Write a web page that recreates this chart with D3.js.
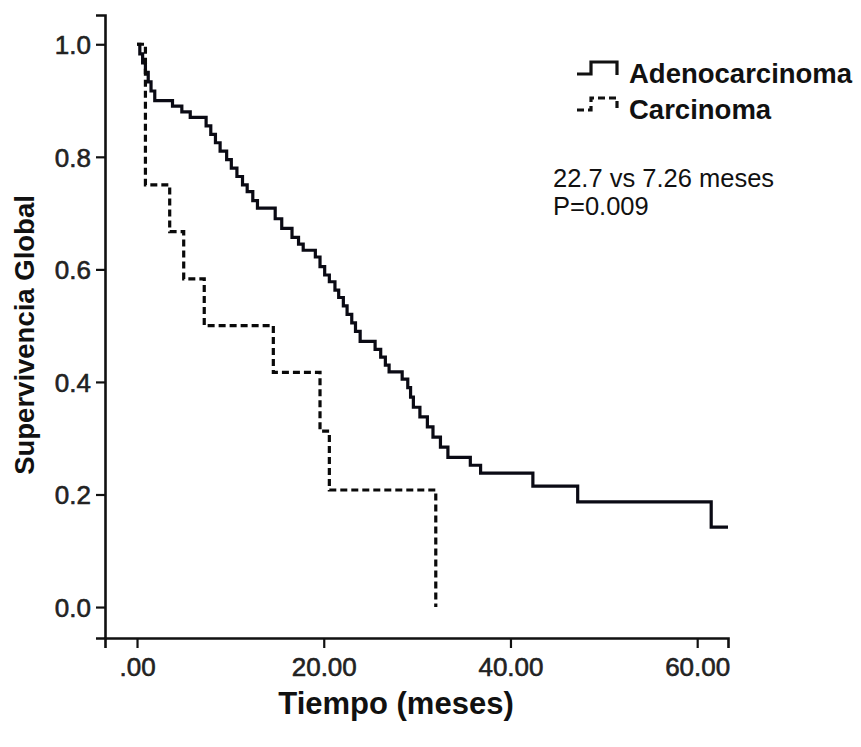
<!DOCTYPE html>
<html>
<head>
<meta charset="utf-8">
<script src="https://cdn.jsdelivr.net/npm/d3@7"></script>
<style>
  html, body { margin: 0; padding: 0; background: #fff; }
  svg { display: block; font-family: "Liberation Sans", Arial, Helvetica, sans-serif; }
</style>
</head>
<body>
<svg id="chart" width="861" height="747"></svg>
<script>
// ---- data ----
const adenoTimes = [0, 0.3, 0.6, 0.9, 1.2, 1.5, 1.9, 3.8, 4.8, 5.7, 7.4, 7.9, 8.4, 8.9, 9.6, 10.1, 10.7, 11.3, 11.8, 12.4, 12.9,
  14.8, 15.5, 16.6, 17.3, 17.8, 19.1, 19.6, 20.1, 20.6, 21.2, 21.6, 22.1, 22.5, 23.0, 23.4, 23.9, 25.5, 26.1, 26.6, 27.0,
  28.4, 29.0, 29.3, 29.6, 30.3, 31.1, 31.7, 32.5, 33.3, 35.7, 36.8, 42.4, 47.2, 61.5, 63.3];
const adenoSurv = [1.0, 0.983, 0.967, 0.95, 0.933, 0.917, 0.90, 0.89, 0.88, 0.87, 0.855, 0.84, 0.825, 0.81, 0.795, 0.78, 0.765, 0.75, 0.738, 0.722, 0.709,
  0.69, 0.673, 0.657, 0.645, 0.634, 0.622, 0.605, 0.59, 0.578, 0.563, 0.55, 0.535, 0.52, 0.505, 0.49, 0.472, 0.458, 0.444, 0.43, 0.418,
  0.405, 0.39, 0.373, 0.355, 0.338, 0.32, 0.302, 0.284, 0.266, 0.252, 0.238, 0.215, 0.187, 0.142, 0.142];
const carcTimes = [0, 0.9, 3.5, 5.0, 7.2, 14.6, 19.6, 20.6, 32.0, 32.0];
const carcSurv = [1.0, 0.75, 0.667, 0.583, 0.5, 0.417, 0.3125, 0.208, 0.0, 0.0];
const groups = ["Adenocarcinoma", "Carcinoma"];
const xTicks = [0, 20, 40, 60];
const yTicks = [0.0, 0.2, 0.4, 0.6, 0.8, 1.0];
const annotation = ["22.7 vs 7.26 meses", "P=0.009"];
const xTitle = "Tiempo (meses)";
const yTitle = "Supervivencia Global";

// ---- chart ----
const svg = d3.select("#chart");
const x = d3.scaleLinear().domain([-3.43, 63.3]).range([105, 728]);
const y = d3.scaleLinear().domain([-0.055, 1.052]).range([638, 15]);

// axes
const gx = svg.append("g").attr("transform", "translate(0,638)")
  .call(d3.axisBottom(x).tickValues(xTicks).tickSizeOuter(0).tickSize(10).tickPadding(6)
    .tickFormat(d => d === 0 ? ".00" : d3.format(".2f")(d)));
const gy = svg.append("g").attr("transform", "translate(105,0)")
  .call(d3.axisLeft(y).tickValues(yTicks).tickSizeOuter(0).tickSize(9).tickPadding(5)
    .tickFormat(d3.format(".1f")));
[gx, gy].forEach(g => {
  g.select(".domain").attr("stroke", "#111").attr("stroke-width", 2.6);
  g.selectAll(".tick line").attr("stroke", "#111").attr("stroke-width", 2.2);
  g.selectAll(".tick text").attr("fill", "#222").attr("font-size", 26)
    .attr("stroke", "#222").attr("stroke-width", 0.6)
    .attr("font-family", "'Liberation Sans', Arial, sans-serif");
});
gx.selectAll(".tick text").attr("dy", "0.85em");
gy.selectAll(".tick text").attr("dy", "0.36em");
svg.append("line").attr("x1", 105).attr("x2", 106).attr("y1", 638).attr("y2", 638)
  .attr("stroke", "#111").attr("stroke-width", 2.6);

// curves
const line = d3.line().x((d) => x(d[0])).y(d => y(d[1])).curve(d3.curveStepAfter);
const adeno = adenoTimes.map((t, i) => [t, adenoSurv[i]]);
const carc = carcTimes.map((t, i) => [t, carcSurv[i]]);
svg.append("path").datum(adeno).attr("d", line)
  .attr("fill", "none").attr("stroke", "#0a0a14").attr("stroke-width", 3.2)
  .attr("stroke-linejoin", "miter");
svg.append("path").datum(carc).attr("d", line)
  .attr("fill", "none").attr("stroke", "#0a0a0a").attr("stroke-width", 3.2)
  .attr("stroke-dasharray", "7,4");

// legend
const legend = svg.append("g");
groups.forEach((name, i) => {
  const oy = i * 36;
  legend.append("path")
    .attr("d", `M577,${74 + oy} H591 V${62 + oy} H617 V${75 + oy}`)
    .attr("fill", "none").attr("stroke", "#111").attr("stroke-width", 3.2)
    .attr("stroke-dasharray", i === 1 ? "7,4" : null);
  legend.append("text").attr("x", 629).attr("y", 83 + oy)
    .attr("font-size", 27.5).attr("font-weight", "bold").attr("fill", "#111")
    .text(name);
});

// annotation
annotation.forEach((t, i) => {
  svg.append("text").attr("x", 553).attr("y", 187 + i * 28)
    .attr("font-size", 25.5).attr("fill", "#111").text(t);
});

// titles
svg.append("text").attr("x", 396).attr("y", 714).attr("text-anchor", "middle")
  .attr("font-size", 31).attr("font-weight", "bold").attr("fill", "#111").text(xTitle);
svg.append("text").attr("transform", "translate(34,335) rotate(-90)").attr("text-anchor", "middle")
  .attr("font-size", 27.5).attr("font-weight", "bold").attr("fill", "#111").text(yTitle);
</script>
</body>
</html>
